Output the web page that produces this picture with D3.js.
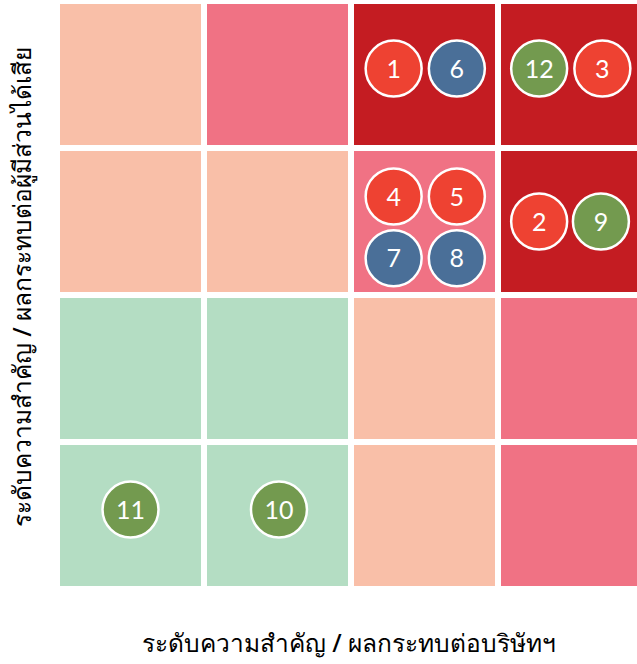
<!DOCTYPE html>
<html>
<head>
<meta charset="utf-8">
<script src="https://cdn.jsdelivr.net/npm/d3@7"></script>
<style>
  body { margin: 0; background: #fff; }
  svg { display: block; }
</style>
</head>
<body>
<div id="chart"></div>
<script>
// risk matrix: 4 impact levels (x) x 4 likelihood levels (y)
const levels = [1, 2, 3, 4];

// cell zone per [likelihood row][impact col], likelihood from high (top) to low
const zoneRows = [
    ['mid', 'high', 'severe', 'severe'],
    ['mid', 'mid', 'high', 'severe'],
    ['low', 'low', 'mid', 'high'],
    ['low', 'low', 'mid', 'high'],
];

const zoneColors = {
    low: '#b4ddc3',
    mid: '#f9bfa8',
    high: '#f07284',
    severe: '#c41c22',
};

// risk positions (continuous impact / likelihood)
const riskIds = [1, 2, 3, 4, 5, 6, 7, 8, 9, 10, 11, 12];
const riskImpact = [2.29, 3.28, 3.71, 2.29, 2.72, 2.72, 2.29, 2.72, 3.70, 1.51, 0.50, 3.28];
const riskLikelihood = [3.54, 2.50, 3.54, 2.67, 2.67, 3.54, 2.25, 2.25, 2.50, 0.54, 0.54, 3.54];
const riskGroup = ['a', 'a', 'a', 'a', 'a', 'b', 'b', 'b', 'c', 'c', 'c', 'c'];

const groupColors = { a: '#ee4232', b: '#4a6f98', c: '#739a4f' };

const xTitle = 'ระดับความสำคัญ / ผลกระทบต่อบริษัทฯ';
const yTitle = 'ระดับความสำคัญ / ผลกระทบต่อผู้มีส่วนได้เสีย';

const width = 637;
const height = 664;
const gap = 6;

const svg = d3.select('#chart')
    .append('svg')
    .attr('width', width)
    .attr('height', height);

// band scales for the cells
const xBand = d3.scaleBand()
    .domain(levels)
    .range([60, 60 + 4 * 147 - gap])
    .paddingInner(gap / 147);

const yBand = d3.scaleBand()
    .domain([4, 3, 2, 1])
    .range([4, 4 + 4 * 147 - gap])
    .paddingInner(gap / 147);

// linear scales for the risk points
const x = d3.scaleLinear().domain([0, 4]).range([57, 645]);
const y = d3.scaleLinear().domain([0, 4]).range([589, 1]);

const cells = [];
zoneRows.forEach((row, i) => {
    row.forEach((zone, j) => {
        cells.push({ impact: levels[j], likelihood: 4 - i, zone: zone });
    });
});

svg.append('g')
    .selectAll('rect')
    .data(cells)
    .enter()
    .append('rect')
    .attr('x', (d) => xBand(d.impact))
    .attr('y', (d) => yBand(d.likelihood))
    .attr('width', xBand.bandwidth())
    .attr('height', yBand.bandwidth())
    .attr('fill', (d) => zoneColors[d.zone]);

const risks = riskIds.map((id, i) => ({
    id: id,
    impact: riskImpact[i],
    likelihood: riskLikelihood[i],
    group: riskGroup[i],
}));

const riskG = svg.append('g')
    .selectAll('g')
    .data(risks)
    .enter()
    .append('g')
    .attr('transform', (d) => `translate(${x(d.impact)},${y(d.likelihood)})`);

riskG.append('circle')
    .attr('r', 28)
    .attr('fill', (d) => groupColors[d.group])
    .attr('stroke', '#fff')
    .attr('stroke-width', 2.5);

riskG.append('text')
    .attr('text-anchor', 'middle')
    .attr('dy', '0.36em')
    .style('font-family', 'Lato, sans-serif')
    .style('font-size', '25px')
    .style('fill', '#fff')
    .text((d) => d.id);

// axis titles
svg.append('text')
    .attr('x', 349)
    .attr('y', 652)
    .attr('text-anchor', 'middle')
    .style('font-family', "'Noto Sans', sans-serif")
    .style('font-size', '24.5px')
    .style('font-weight', 500)
    .style('fill', '#000')
    .text(xTitle);

svg.append('text')
    .attr('transform', 'translate(31,287) rotate(-90)')
    .attr('text-anchor', 'middle')
    .style('font-family', "'Noto Sans', sans-serif")
    .style('font-size', '24.5px')
    .style('font-weight', 500)
    .style('fill', '#000')
    .text(yTitle);
</script>
</body>
</html>
